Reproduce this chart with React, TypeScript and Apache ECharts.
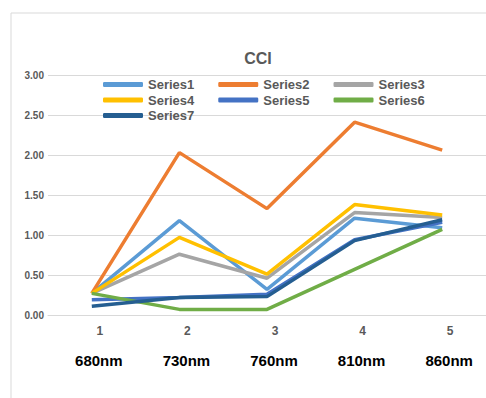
import React, { useEffect, useRef } from "react";
import * as echarts from "echarts";

const categories = ["1", "2", "3", "4", "5"];
const wavelengths = ["680nm", "730nm", "760nm", "810nm", "860nm"];
const seriesNames = ["Series1", "Series2", "Series3", "Series4", "Series5", "Series6", "Series7"];
const series1 = [0.27, 1.18, 0.32, 1.21, 1.09];
const series2 = [0.27, 2.03, 1.33, 2.41, 2.06];
const series3 = [0.27, 0.76, 0.46, 1.28, 1.22];
const series4 = [0.27, 0.97, 0.51, 1.38, 1.25];
const series5 = [0.19, 0.22, 0.26, 0.94, 1.16];
const series6 = [0.27, 0.07, 0.07, 0.57, 1.07];
const series7 = [0.11, 0.22, 0.23, 0.93, 1.19];
const yTicks = [0, 0.5, 1, 1.5, 2, 2.5, 3];
const colors = ["#5B9BD5", "#ED7D31", "#A5A5A5", "#FFC000", "#4472C4", "#70AD47", "#255E91"];

export default function App() {
  const ref = useRef<HTMLDivElement>(null);
  useEffect(() => {
    if (!ref.current) return;
    const chart = echarts.init(ref.current, null, { renderer: "svg" });
    const allData = [series1, series2, series3, series4, series5, series6, series7];
    const legendBase = {
      left: 98,
      itemWidth: 40,
      itemHeight: 5,
      itemGap: 24,
      icon: "roundRect",
      textStyle: { fontSize: 13, fontWeight: "bold", color: "#595959", fontFamily: "Liberation Sans, Arial, sans-serif" },
    };
    chart.setOption({
      animation: false,
      color: colors,
      title: {
        text: "CCI",
        left: 253,
        top: 45,
        textAlign: "center",
        textStyle: { fontSize: 16, fontWeight: "bold", color: "#595959", fontFamily: "Liberation Sans, Arial, sans-serif" },
      },
      legend: [
        { ...legendBase, top: 73, data: seriesNames.slice(0, 3) },
        { ...legendBase, top: 88.5, data: seriesNames.slice(3, 6) },
        { ...legendBase, top: 104, data: seriesNames.slice(6) },
      ],
      graphic: [
        {
          type: "rect",
          shape: { x: 11, y: 13, width: 500, height: 420 },
          style: { fill: "none", stroke: "#d9d9d9", lineWidth: 1 },
          silent: true,
        },
      ],
      grid: { left: 48, width: 443, top: 75, bottom: 83 },
      xAxis: {
        type: "category",
        data: categories,
        boundaryGap: true,
        axisLine: { lineStyle: { color: "#d9d9d9" } },
        axisTick: { show: false },
        axisLabel: {
          margin: 6,
          formatter: (v: string, i: number) => `{a|${v}}\n{b|${wavelengths[i]}}`,
          rich: {
            a: { fontSize: 12, fontWeight: "bold", color: "#595959", lineHeight: 20, padding: [0, 0, 0, 16], fontFamily: "Liberation Sans, Arial, sans-serif" },
            b: { fontSize: 15, fontWeight: "bold", color: "#000", lineHeight: 38, padding: [0, 0, 0, 14], fontFamily: "Liberation Sans, Arial, sans-serif" },
          },
        },
      },
      yAxis: {
        type: "value",
        min: yTicks[0],
        max: yTicks[yTicks.length - 1],
        interval: 0.5,
        axisLine: { show: false },
        axisTick: { show: false },
        splitLine: { lineStyle: { color: "#d9d9d9" } },
        axisLabel: {
          margin: 4,
          formatter: (v: number) => v.toFixed(2),
          fontSize: 10,
          fontWeight: "bold",
          color: "#595959",
          fontFamily: "Liberation Sans, Arial, sans-serif",
        },
      },
      series: seriesNames.map((name, i) => ({
        name,
        type: "line",
        data: allData[i],
        symbol: "none",
        lineStyle: { width: 3.5, color: colors[i] },
        itemStyle: { color: colors[i] },
      })),
    });
    return () => chart.dispose();
  }, []);
  return <div ref={ref} style={{ position: "fixed", left: 0, top: 0, width: 486, height: 398, background: "#fff" }} />;
}
